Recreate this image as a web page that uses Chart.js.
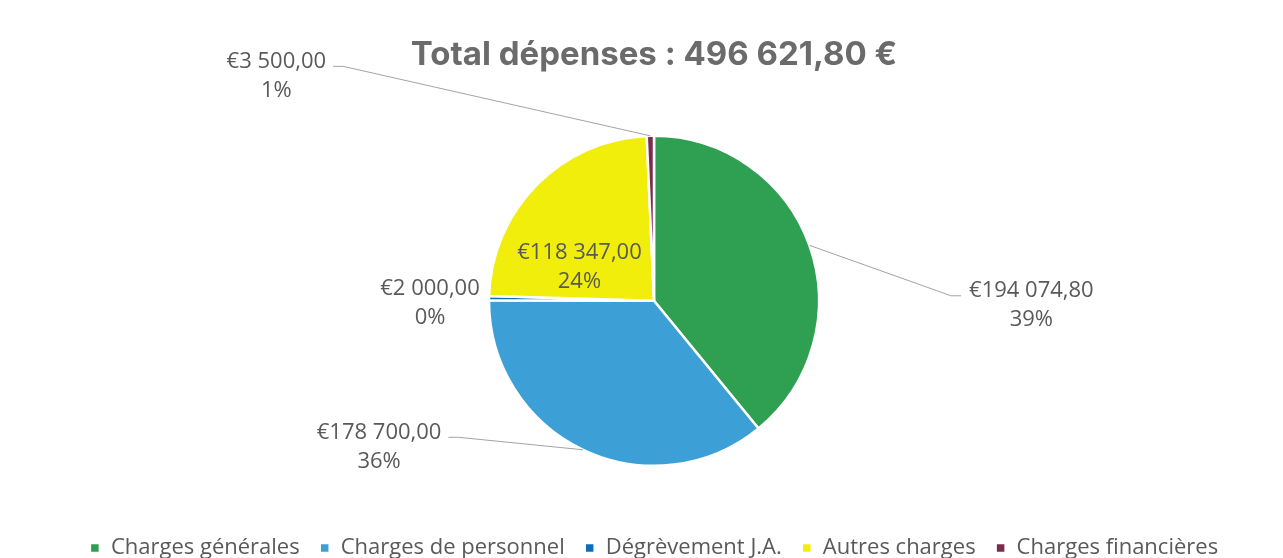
<!DOCTYPE html>
<html lang="fr">
<head>
<meta charset="utf-8">
<title>Total dépenses</title>
<script src="https://cdn.jsdelivr.net/npm/chart.js@4/dist/chart.umd.min.js"></script>
<style>
  html, body { margin: 0; padding: 0; background: #fff; overflow: hidden; }
  canvas { display: block; }
</style>
</head>
<body>
<canvas id="chart" width="1283" height="558"></canvas>
<script>
// données
const categories = ["Charges générales", "Charges de personnel", "Dégrèvement J.A.", "Autres charges", "Charges financières"];
const montants = [194074.80, 178700.00, 2000.00, 118347.00, 3500.00];
const couleurs = ["#2f9f52", "#3ca0d6", "#0b6fbf", "#f2ee0c", "#7a2d4b"];
const titre = "Total dépenses : 496 621,80 €";

// placement des étiquettes (décalage depuis le bord de la part)
const etiquettes = [
  { dx: 222, dy: 60, trait: true },
  { dx: -204, dy: -3, trait: true },
  { dx: -59, dy: 5, trait: false },
  { dx: 43, dy: 82, trait: false },
  { dx: -374, dy: -60, trait: true },
];

const total = montants.reduce((a, b) => a + b, 0);

function euro(v) {
  const [ent, dec] = v.toFixed(2).split(".");
  return "€" + ent.replace(/\B(?=(\d{3})+(?!\d))/g, " ") + "," + dec;
}

const etiquettesPlugin = {
  id: "etiquettes",
  afterDatasetsDraw(chart) {
    const ctx = chart.ctx;
    const meta = chart.getDatasetMeta(0);
    ctx.save();
    ctx.font = "22px 'Open Sans'";
    ctx.textAlign = "center";
    ctx.textBaseline = "middle";
    meta.data.forEach((arc, i) => {
      const { x, y, startAngle, endAngle, outerRadius } = arc.getProps(["x", "y", "startAngle", "endAngle", "outerRadius"], true);
      const mid = (startAngle + endAngle) / 2;
      const ex = x + Math.cos(mid) * outerRadius;
      const ey = y + Math.sin(mid) * outerRadius;
      const opt = etiquettes[i];
      const cx = ex + opt.dx;
      const cy = ey + opt.dy;
      const l1 = euro(montants[i]);
      const l2 = Math.round(montants[i] / total * 100) + "%";
      const w = ctx.measureText(l1).width;
      const y1 = cy - 14.5;
      const y2 = cy + 14.5;
      if (opt.trait) {
        const droite = cx > ex;
        const bx = droite ? cx - w / 2 - 8 : cx + w / 2 + 7;
        const by = y1 + 5;
        ctx.strokeStyle = "#a3a3a3";
        ctx.lineWidth = 1;
        ctx.beginPath();
        ctx.moveTo(ex, ey);
        ctx.lineTo(droite ? bx - 10 : bx + 10, by);
        ctx.lineTo(bx, by);
        ctx.stroke();
      }
      ctx.fillStyle = "#595959";
      ctx.fillText(l1, cx, y1);
      ctx.fillText(l2, cx, y2);
    });
    ctx.restore();
  }
};

new Chart(document.getElementById("chart"), {
  type: "pie",
  data: {
    labels: categories,
    datasets: [{
      data: montants,
      backgroundColor: couleurs,
      borderColor: "#ffffff",
      borderWidth: 2.5,
    }]
  },
  options: {
    responsive: false,
    animation: false,
    radius: 165,
    layout: { padding: { left: 25, right: 0, top: 0, bottom: -11 } },
    plugins: {
      tooltip: { enabled: false },
      title: {
        display: true,
        text: titre,
        color: "#6b6b6b",
        font: { family: "Inter", size: 33, weight: "bold" },
        padding: { top: 35, bottom: 10 },
      },
      legend: {
        position: "bottom",
        labels: {
          color: "#595959",
          font: { family: "'Open Sans'", size: 22 },
          boxWidth: 10,
          boxHeight: 10,
          padding: 20,
        }
      }
    }
  },
  plugins: [etiquettesPlugin]
});
</script>
</body>
</html>
